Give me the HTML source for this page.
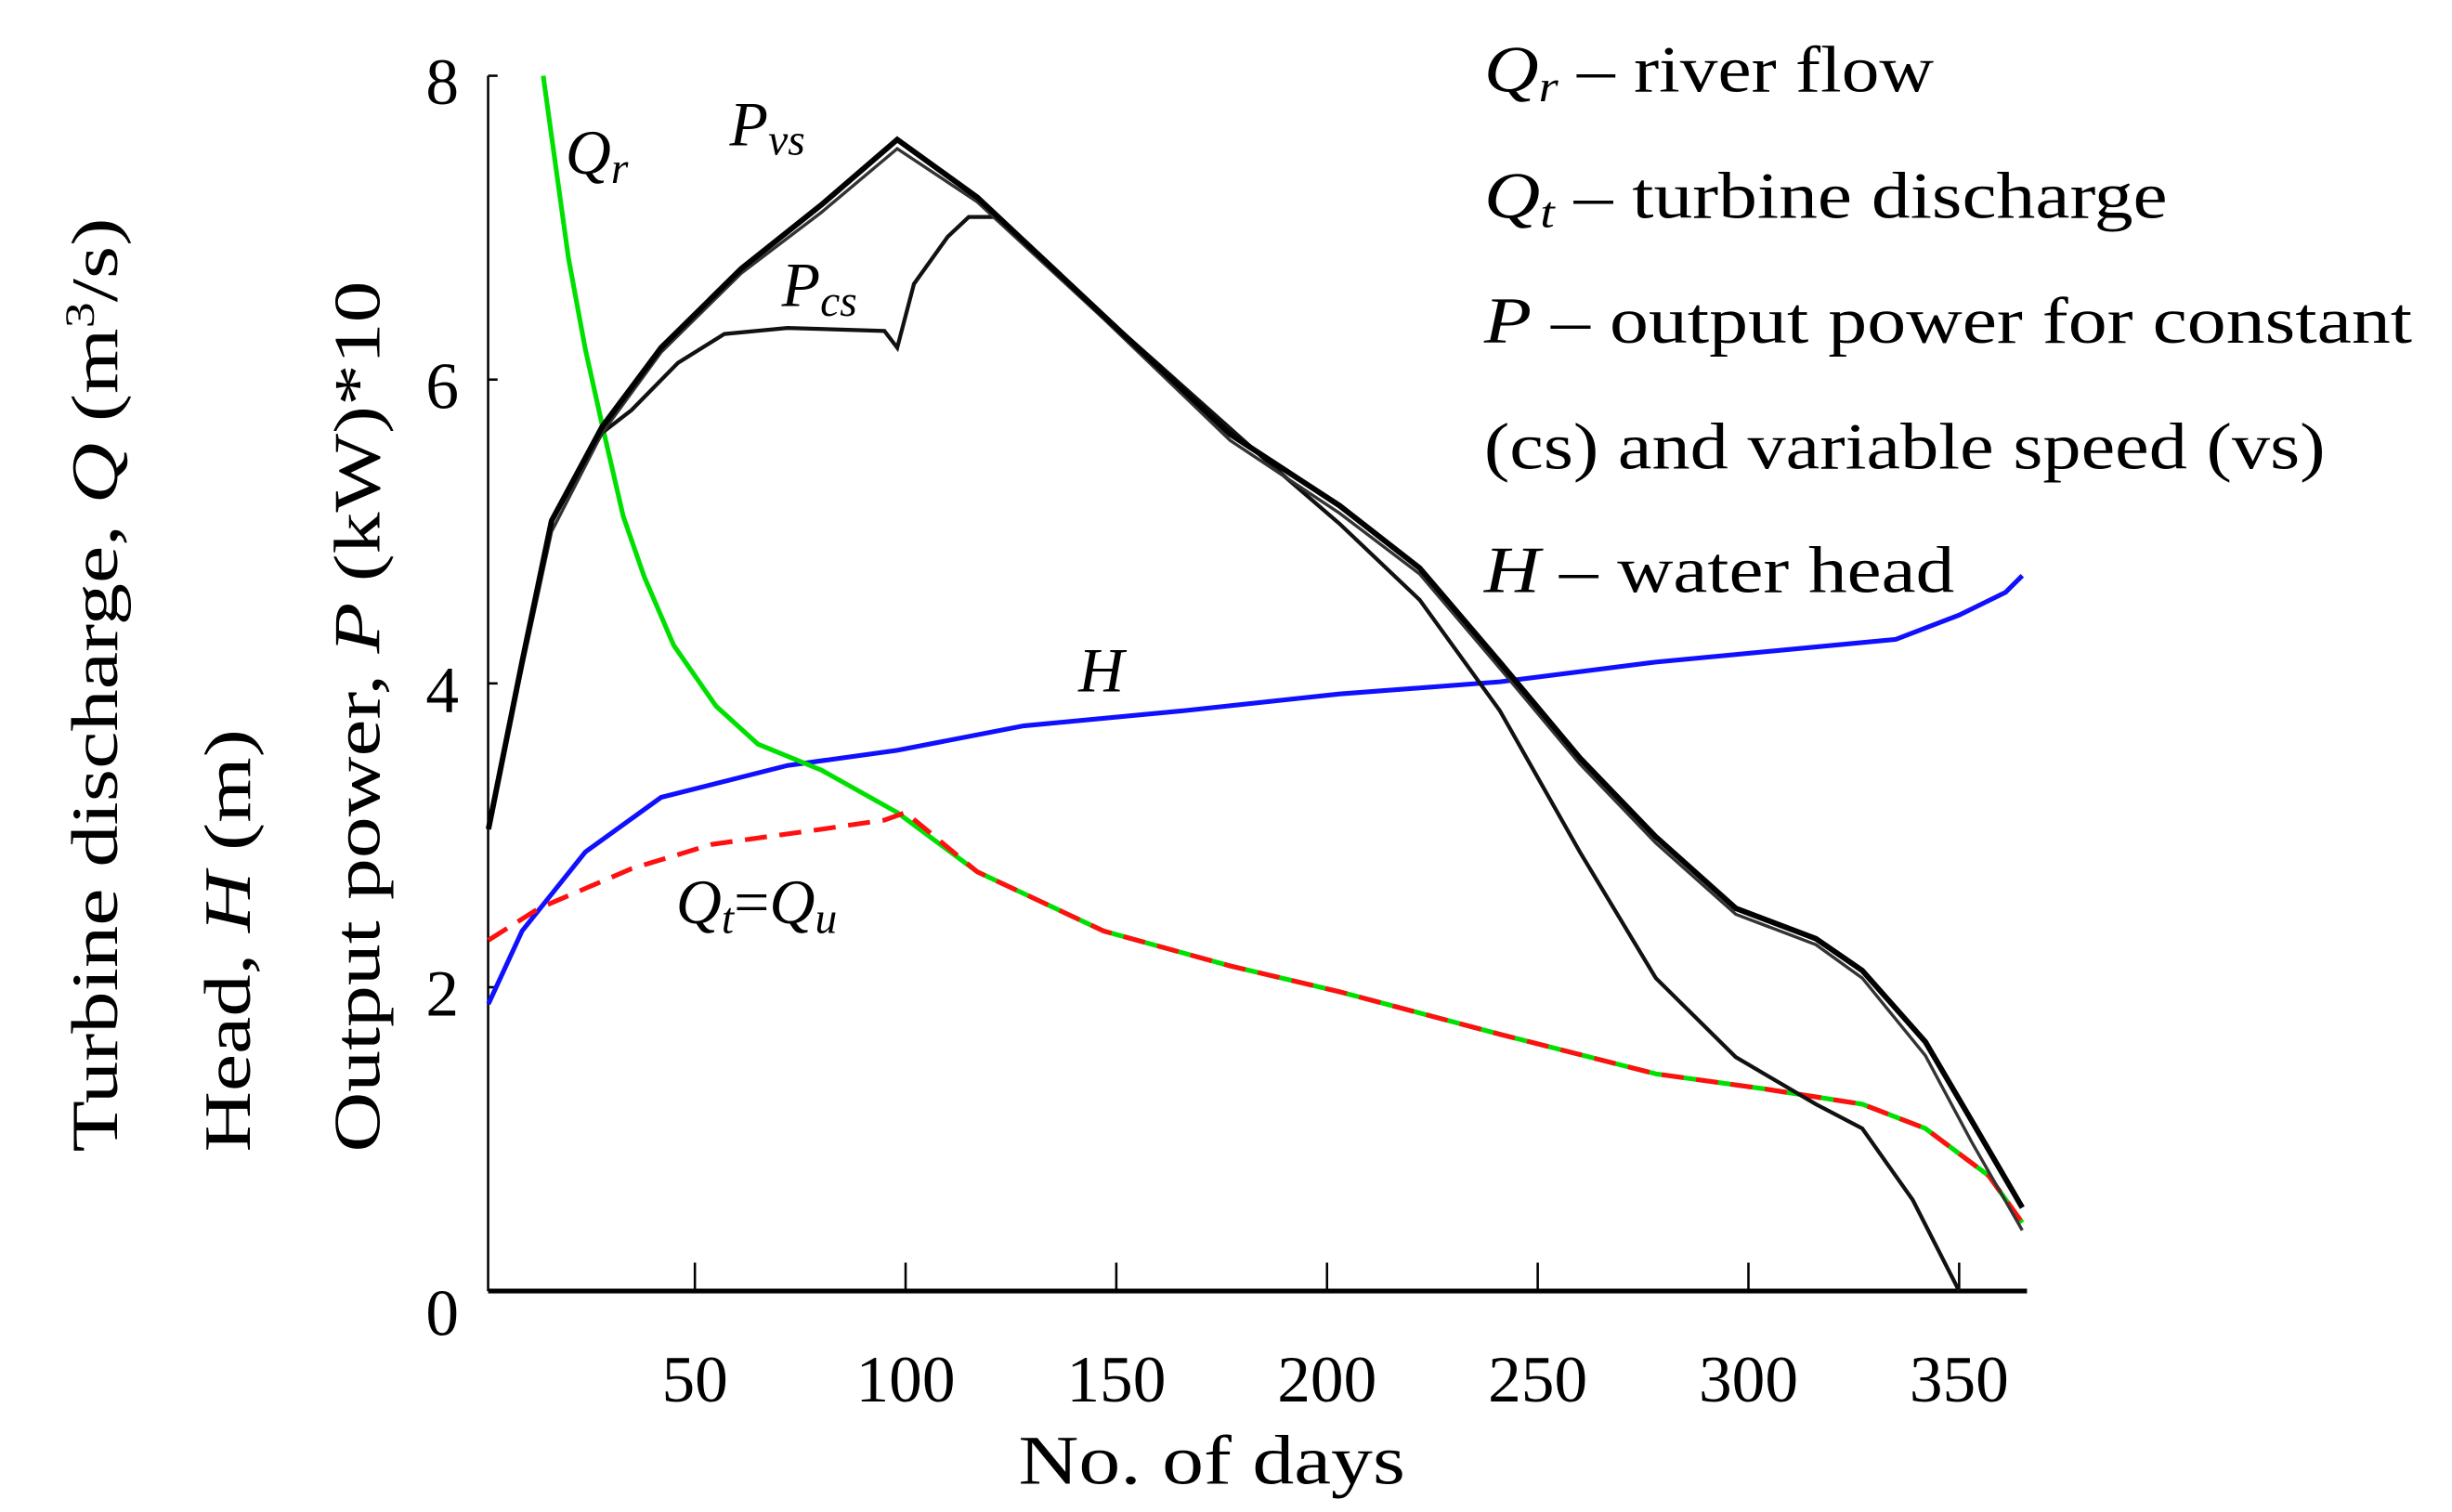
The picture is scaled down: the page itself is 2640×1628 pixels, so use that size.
<!DOCTYPE html>
<html><head><meta charset="utf-8"><style>
html,body{margin:0;padding:0;background:#fff;}
svg{display:block;font-family:"Liberation Serif",serif;}
</style></head><body>
<svg id="chart" width="2640" height="1628" viewBox="0 0 1553 958" xmlns="http://www.w3.org/2000/svg">
<g id="axes"></g>
<g id="series"></g>
<g font-size="42" fill="#000">
<text transform="translate(74,730) rotate(-90)" textLength="592" lengthAdjust="spacingAndGlyphs">Turbine discharge, <tspan font-style="italic">Q</tspan> (m<tspan font-size="26" dy="-15">3</tspan><tspan dy="15">/s)</tspan></text>
<text transform="translate(158,730) rotate(-90)" textLength="268" lengthAdjust="spacingAndGlyphs">Head, <tspan font-style="italic">H</tspan> (m)</text>
<text transform="translate(240,730) rotate(-90)" textLength="552" lengthAdjust="spacingAndGlyphs">Output power, <tspan font-style="italic">P</tspan> (kW)*10</text>
</g>
<text x="645" y="940" font-size="44" textLength="245" lengthAdjust="spacingAndGlyphs">No. of days</text>
<g font-size="40" font-style="italic">
<text x="358" y="110">Q<tspan font-size="28" dy="6">r</tspan></text>
<text x="462" y="92">P<tspan font-size="28" dy="6">vs</tspan></text>
<text x="495" y="194">P<tspan font-size="28" dy="6">cs</tspan></text>
<text x="683" y="438">H</text>
<text x="428" y="585">Q<tspan font-size="28" dy="6">t</tspan><tspan dy="-6" font-style="normal">=</tspan>Q<tspan font-size="28" dy="6">u</tspan></text>
</g>
<g font-size="42">
<text x="940" y="58" textLength="285" lengthAdjust="spacingAndGlyphs"><tspan font-style="italic">Q</tspan><tspan font-style="italic" font-size="28" dy="6">r</tspan><tspan dy="-6"> – river flow</tspan></text>
<text x="940" y="138" textLength="433" lengthAdjust="spacingAndGlyphs"><tspan font-style="italic">Q</tspan><tspan font-style="italic" font-size="28" dy="6">t</tspan><tspan dy="-6"> – turbine discharge</tspan></text>
<text x="940" y="217" textLength="588" lengthAdjust="spacingAndGlyphs"><tspan font-style="italic">P</tspan> – output power for constant</text>
<text x="940" y="297" textLength="533" lengthAdjust="spacingAndGlyphs">(cs) and variable speed (vs)</text>
<text x="940" y="375" textLength="298" lengthAdjust="spacingAndGlyphs"><tspan font-style="italic">H</tspan> – water head</text>
</g>
</svg>
<script>
const xTicks = [50,100,150,200,250,300,350];
const yTicks = [0,2,4,6,8];
const qrDays = [14,17,20,24,28,33,38,45,55,65,80,98,117,147,177,203,241,278,304,327,342,357,365];
const qrVals = [8,7.4,6.8,6.2,5.7,5.1,4.7,4.25,3.85,3.6,3.43,3.15,2.76,2.37,2.14,1.97,1.69,1.43,1.33,1.23,1.07,0.76,0.45];
const qtDays = [1,13,35,54,80,95,100,117,147,177,203,241,278,304,327,342,357,365];
const qtVals = [2.31,2.52,2.78,2.94,3.04,3.1,3.15,2.76,2.37,2.14,1.97,1.69,1.43,1.33,1.23,1.07,0.76,0.45];
const hDays = [1,9,24,42,72,98,128,166,203,241,278,316,335,350,361,365];
const hVals = [1.89,2.37,2.89,3.25,3.46,3.56,3.72,3.82,3.93,4.01,4.14,4.24,4.29,4.45,4.6,4.71];
const pvsDays = [1,9,16,28,42,61,80,98,117,147,177,203,222,241,260,278,297,316,327,342,353,365];
const pvsVals = [3.04,4.14,5.07,5.69,6.21,6.73,7.15,7.58,7.2,6.42,5.64,5.17,4.76,4.14,3.51,2.99,2.52,2.32,2.11,1.64,1.12,0.55];
const pvs2Vals = [3.04,4.1,5.0,5.65,6.18,6.7,7.1,7.52,7.17,6.4,5.6,5.12,4.72,4.1,3.47,2.95,2.48,2.28,2.06,1.55,0.98,0.4];
const pcsDays = [1,9,16,28,35,46,57,72,95,98,102,110,115,121,126,147,160,185,203,222,241,260,278,297,316,327,339,350];
const pcsVals = [3.04,4.14,5.07,5.65,5.8,6.11,6.3,6.34,6.32,6.21,6.63,6.94,7.07,7.07,6.95,6.42,6.1,5.48,5.05,4.55,3.82,2.89,2.06,1.54,1.23,1.07,0.6,0];
const svgNS = "http://www.w3.org/2000/svg";
const X0 = 306.5, XS = 2.67, Y0 = 818, YS = 96.25;
function xs(d){return X0 + d*XS;}
function ys(v){return Y0 - v*YS;}
function mk(tag, attrs, parent){const e=document.createElementNS(svgNS,tag);for(const k in attrs)e.setAttribute(k,attrs[k]);parent.appendChild(e);return e;}
const axes = document.getElementById('axes');
const series = document.getElementById('series');
let a = mk('line',{x1:309,y1:Y0,x2:1284,y2:Y0,stroke:'#000','stroke-width':3},axes);


a = mk('line',{x1:309,y1:48,x2:309,y2:Y0,stroke:'#000','stroke-width':1.5},axes);


xTicks.forEach(t=>{
  const l = mk('line',{x1:xs(t),y1:Y0,x2:xs(t),y2:Y0-18,stroke:'#000','stroke-width':1.5},axes);
  
  
  const tx = mk('text',{x:xs(t),y:888,'font-size':42,'text-anchor':'middle'},axes);
  tx.textContent = t;
  
  
});
yTicks.forEach(t=>{
  const l = mk('line',{x1:309,y1:ys(t),x2:315,y2:ys(t),stroke:'#000','stroke-width':1.5},axes);
  
  
  const tx = mk('text',{x:280,y:ys(t)+(t===0?28:18),'font-size':42,'text-anchor':'middle'},axes);
  tx.textContent = t;
  
  
});
function path(days, vals){return days.map((d,i)=>(i?'L':'M')+xs(d).toFixed(1)+','+ys(vals[i]).toFixed(1)).join(' ');}
let p;
p = mk('path',{d:path(hDays,hVals),fill:'none',stroke:'#1010ff','stroke-width':3},series);


p = mk('path',{d:path(qrDays,qrVals),fill:'none',stroke:'#00e000','stroke-width':3},series);


p = mk('path',{d:path(qtDays,qtVals),fill:'none',stroke:'#ff1010','stroke-width':3,'stroke-dasharray':'14 8'},series);


p = mk('path',{d:path(pcsDays,pcsVals),fill:'none',stroke:'#111','stroke-width':2.5},series);


p = mk('path',{d:path(pvsDays,pvs2Vals),fill:'none',stroke:'#333','stroke-width':2},series);


p = mk('path',{d:path(pvsDays,pvsVals),fill:'none',stroke:'#000','stroke-width':3.5},series);


</script>
</body></html>
